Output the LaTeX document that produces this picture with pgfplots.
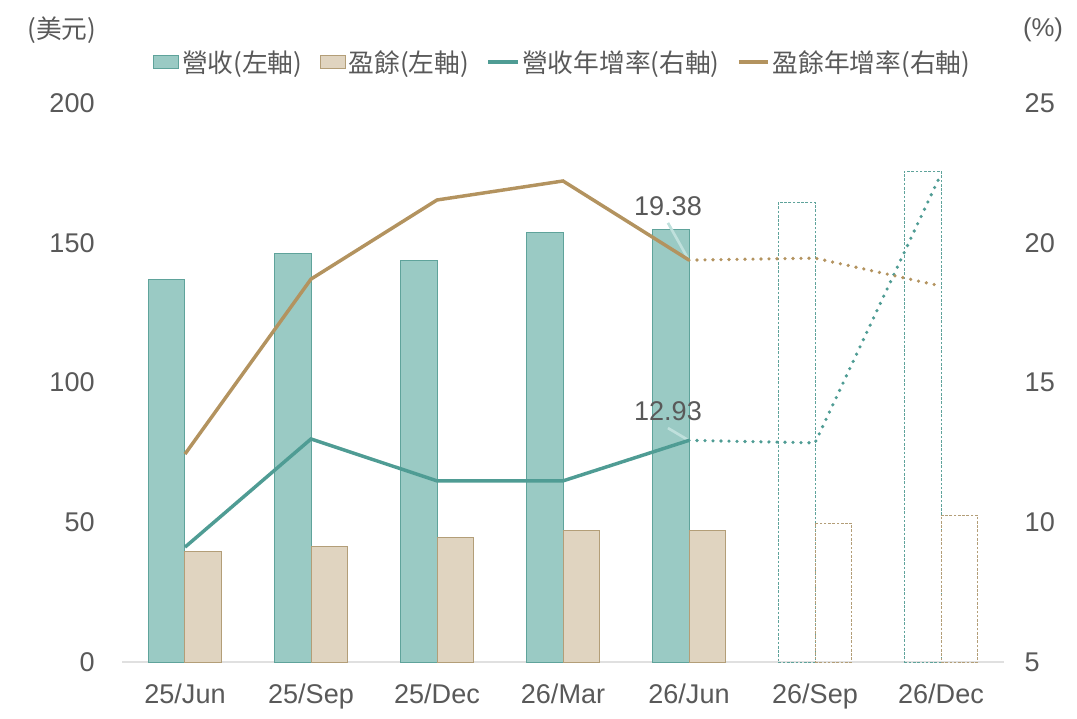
\documentclass[border=0pt]{standalone}
\usepackage{pgfplots}
\usepackage{pgfplotstable}
\pgfplotsset{compat=1.18}
\usepackage{fontspec}
\setmainfont{Liberation Sans}
\newfontfamily\cjk{Noto Sans CJK TC}
\definecolor{revfill}{HTML}{9ACAC4}
\definecolor{reved}{HTML}{5FA39B}
\definecolor{earnfill}{HTML}{E0D4C0}
\definecolor{earned}{HTML}{B39E78}
\definecolor{revline}{HTML}{4F9C94}
\definecolor{earnline}{HTML}{B3935F}
\definecolor{txt}{HTML}{595959}
\definecolor{lead}{HTML}{BFE0DC}

\pgfplotstableread{
x rev earn revg earng
0 137.0 39.4 9.11 12.44
1 146.0 41.5 12.98 18.70
2 143.5 44.4 11.48 21.53
3 153.5 47.2 11.48 22.21
4 154.9 46.9 12.93 19.38
}\actual
\pgfplotstableread{
x rev earn
5 164.6 49.7
6 175.7 52.6
}\fcbars
\pgfplotstableread{
x revg earng
4 12.93 19.38
5 12.84 19.45
6 22.46 18.45
}\fclines

\pgfplotsset{base/.style={
  scale only axis, width=661.5pt, height=419.25pt,
  xmin=-0.5, xmax=6.5,
  at={(0,0)}, anchor=south west,
  ticklabel style={font=\fontsize{20.3}{24}\selectfont, text=txt},
  /pgf/number format/assume math mode=true,
  major tick length=0pt, minor tick num=0,
}}

\begin{document}
\begin{tikzpicture}
\useasboundingbox (-91.5pt,-42pt) rectangle (716.25pt,496.5pt);
\begin{axis}[base,
  ymin=0, ymax=200, ytick={0,50,100,150,200},
  axis x line*=bottom, axis y line*=left,
  x axis line style={-, draw=black!12, line width=0.8pt},
  y axis line style={draw=none},
  xtick={0,...,6},
  xticklabels={25/Jun,25/Sep,25/Dec,26/Mar,26/Jun,26/Sep,26/Dec},
  xticklabel style={yshift=-13pt},
  yticklabel style={xshift=-17pt},
  legend columns=4,
  legend style={draw=none, fill=none, at={(0.5,1.073)}, anchor=center,
    font=\cjk\fontsize{19.3}{23}\selectfont, text=txt,
    /tikz/every even column/.append style={column sep=11pt}},
]
\addplot[ybar, bar width=0.29, bar shift=-0.145, fill=revfill, draw=reved, line width=0.75pt, forget plot] table[x=x,y=rev]{\actual};
\addplot[ybar, bar width=0.29, bar shift=0.145, fill=earnfill, draw=earned, line width=0.75pt, forget plot] table[x=x,y=earn]{\actual};
\addplot[ybar, bar width=0.29, bar shift=-0.145, fill=none, draw=reved, line width=0.6pt, dash pattern=on 2pt off 1.2pt, forget plot] table[x=x,y=rev]{\fcbars};
\addplot[ybar, bar width=0.29, bar shift=0.145, fill=none, draw=earned, line width=0.6pt, dash pattern=on 2pt off 1.2pt, forget plot] table[x=x,y=earn]{\fcbars};
\addlegendimage{legend image code/.code={\draw[fill=revfill, draw=reved, line width=0.75pt] (0pt,-5pt) rectangle (19pt,5pt);}}
\addlegendimage{legend image code/.code={\draw[fill=earnfill, draw=earned, line width=0.75pt] (0pt,-5pt) rectangle (19pt,5pt);}}
\addlegendimage{legend image code/.code={\draw[revline, line width=2.8pt] (0pt,0pt) -- (22pt,0pt);}}
\addlegendimage{legend image code/.code={\draw[earnline, line width=2.8pt] (0pt,0pt) -- (22pt,0pt);}}
\legend{營收(左軸),盈餘(左軸),營收年增率(右軸),盈餘年增率(右軸)}
\end{axis}
\begin{axis}[base,
  ymin=5, ymax=25, ytick={5,10,15,20,25},
  axis y line*=right, hide x axis,
  y axis line style={draw=none},
  yticklabel style={xshift=12pt},
  clip=false,
]
\draw[lead, line width=2pt] (axis cs:3.833,20.71) -- (axis cs:3.99,19.45);
\draw[lead, line width=2pt] (axis cs:3.833,13.37) -- (axis cs:3.99,12.95);
\addplot[revline, line width=2.6pt] table[x=x,y=revg]{\actual};
\addplot[earnline, line width=2.6pt] table[x=x,y=earng]{\actual};
\addplot[revline, line width=2.7pt, line cap=round, dash pattern=on 0pt off 6pt] table[x=x,y=revg]{\fclines};
\addplot[earnline, line width=2.7pt, line cap=round, dash pattern=on 0pt off 6pt] table[x=x,y=earng]{\fclines};
\node[text=txt, font=\fontsize{20.3}{24}\selectfont] at (axis cs:3.833,21.31) {19.38};
\node[text=txt, font=\fontsize{20.3}{24}\selectfont] at (axis cs:3.833,13.98) {12.93};
\end{axis}
\node[text=txt, font=\cjk\fontsize{19.3}{23}\selectfont] at (-45pt,474pt) {(美元)};
\node[text=txt, font=\fontsize{19.3}{23}\selectfont] at (690.75pt,474pt) {(\%)};
\end{tikzpicture}
\end{document}
